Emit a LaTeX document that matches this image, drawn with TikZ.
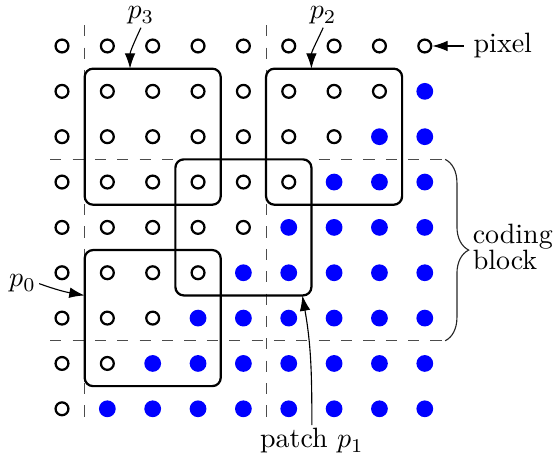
\documentclass[tikz,border=0pt]{standalone}
\usetikzlibrary{arrows.meta,decorations.pathreplacing}

\tikzset{
    pix/.style={circle, draw, thick, inner sep=0pt, minimum size=4.6pt},
    full/.style={circle, fill=blue, inner sep=0pt, minimum size=6pt},
    patch/.style={thick, rounded corners=3pt},
    block/.style={black!70, dash pattern=on 4pt off 4pt},
    lab/.style={inner sep=1pt},
    pointer/.style={-{Latex[length=5.5pt,width=3.8pt]}},
}

\begin{document}
\begin{tikzpicture}[x=0.57cm, y=0.57cm]
    \useasboundingbox (-1.367,1.014) rectangle (10.871,-9.085);
    % coding block borders
    \draw[block] (-0.26,-2.5) -- (8.45,-2.5);
    \draw[block] (-0.26,-6.5) -- (8.45,-6.5);
    \draw[block] (0.5,0.46) -- (0.5,-8.25);
    \draw[block] (4.5,0.46) -- (4.5,-8.25);
    \draw[black!85, decorate, decoration={brace, amplitude=8.4pt}] (8.45,-2.5) -- (8.45,-6.5);
    % pixels
    \foreach \i in {0,...,8} {
        \foreach \j in {0,...,8} {
            \pgfmathtruncatemacro{\s}{\i+\j}
            \ifnum\s<9
                \node[pix] (d-\i-\j) at (\i,-\j) {};
            \else
                \node[full] (d-\i-\j) at (\i,-\j) {};
            \fi
        }
    }
    % patches
    \draw[patch] (0.5,-0.5) rectangle (3.5,-3.5);
    \draw[patch] (4.5,-0.5) rectangle (7.5,-3.5);
    \draw[patch] (2.5,-2.5) rectangle (5.5,-5.5);
    \draw[patch] (0.5,-4.5) rectangle (3.5,-7.5);
    \coordinate (tip-p3) at (1.5,-0.5);
    \coordinate (tip-p2) at (5.5,-0.5);
    \coordinate (tip-p1) at (5.3,-5.5);
    \coordinate (tip-p0) at (0.5,-5.5);
    % labels
    \node[lab] (p3) at (1.74,0.67) {$p_3$};
    \node[lab] (p2) at (5.76,0.67) {$p_2$};
    \node[lab] (p1) at (5.51,-8.71) {patch $p_1$};
    \node[lab] (p0) at (-0.87,-5.24) {$p_0$};
    \node[anchor=west] (pixel) at (8.86,0) {pixel};
    \node[anchor=west, align=left] (coding) at (8.84,-4.43) {coding\\[-2.5pt]block};
    \draw[pointer] (p3.south) to[out=-115, in=90] (tip-p3);
    \draw[pointer] (p2.south) to[out=-115, in=90] (tip-p2);
    \draw[pointer] (p1.north) to[out=90, in=-80] (tip-p1);
    \draw[pointer] (p0.east) to[out=-20, in=170] (tip-p0);
    \draw[pointer] (pixel.west) -- (d-8-0.east);
\end{tikzpicture}
\end{document}
